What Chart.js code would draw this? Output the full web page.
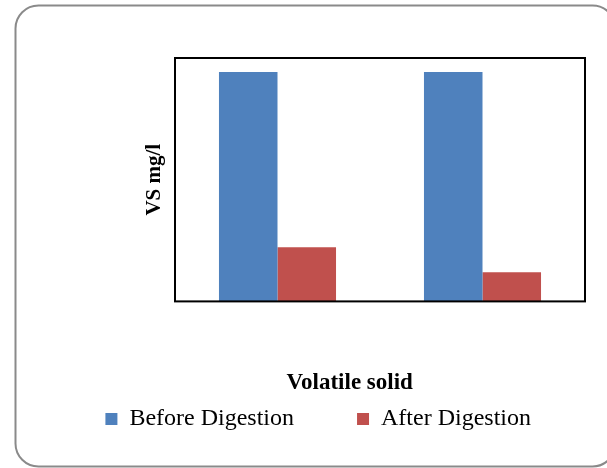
<!DOCTYPE html>
<html>
<head>
<meta charset="utf-8">
<script src="https://cdn.jsdelivr.net/npm/chart.js@4/dist/chart.umd.min.js"></script>
<style>
  html, body { margin: 0; padding: 0; background: #ffffff; }
  #wrap { width: 607px; height: 468px; }
</style>
</head>
<body>
<div id="wrap"><canvas id="c" width="607" height="468"></canvas></div>
<script>
// Volatile solids (mg/l) for the two samples, before and after digestion
const categories = ['1', '2'];
const beforeDigestion = [8480, 8480];
const afterDigestion = [2000, 1075];
const yMax = 9000;

const SERIF = "'Liberation Serif', 'Times New Roman', serif";

// White page with a rounded grey outline around the whole chart
const outerFrame = {
  id: 'outerFrame',
  beforeDraw(chart) {
    const ctx = chart.ctx;
    ctx.save();
    ctx.fillStyle = '#ffffff';
    ctx.fillRect(0, 0, chart.width, chart.height);
    ctx.beginPath();
    ctx.roundRect(15.5, 5.5, 600, 461, 23);
    ctx.lineWidth = 2;
    ctx.strokeStyle = '#8a8a8a';
    ctx.stroke();
    ctx.restore();
  }
};

// Black box around the plotting area
const plotFrame = {
  id: 'plotFrame',
  afterDatasetsDraw(chart) {
    const { ctx, chartArea: a } = chart;
    ctx.save();
    ctx.lineWidth = 2;
    ctx.strokeStyle = '#000000';
    ctx.strokeRect(a.left, a.top, a.right - a.left, a.bottom - a.top);
    ctx.restore();
  }
};

new Chart(document.getElementById('c'), {
  type: 'bar',
  data: {
    labels: categories,
    datasets: [
      {
        label: 'Before Digestion',
        data: beforeDigestion,
        backgroundColor: '#4F81BD',
        borderColor: '#4F81BD',
        borderWidth: 0
      },
      {
        label: 'After Digestion',
        data: afterDigestion,
        backgroundColor: '#C0504D',
        borderColor: '#C0504D',
        borderWidth: 0
      }
    ]
  },
  options: {
    responsive: false,
    animation: false,
    devicePixelRatio: 1,
    categoryPercentage: 0.571,
    barPercentage: 1.0,
    layout: { padding: { left: 0, right: 13, top: 58, bottom: 27 } },
    scales: {
      x: {
        ticks: { display: false },
        grid: { display: false },
        border: { display: false },
        afterFit(scale) { scale.height = 70; }
      },
      y: {
        min: 0,
        max: yMax,
        ticks: { display: false },
        grid: { display: false },
        border: { display: false },
        title: {
          display: true,
          text: 'VS mg/l',
          color: '#000000',
          font: { family: SERIF, size: 21, weight: 'bold' },
          padding: { top: 142, bottom: 0 }
        },
        afterFit(scale) { scale.width = 175; }
      },
      yRight: {
        position: 'right',
        display: true,
        ticks: { display: false },
        grid: { display: false },
        border: { display: false },
        afterFit(scale) { scale.width = 9; }
      }
    },
    plugins: {
      tooltip: { enabled: false },
      legend: {
        position: 'bottom',
        align: 'end',
        title: {
          display: true,
          text: 'Volatile solid',
          position: 'center',
          color: '#000000',
          font: { family: SERIF, size: 23, weight: 'bold' },
          padding: { top: 0, bottom: -55 }
        },
        labels: {
          color: '#000000',
          font: { family: SERIF, size: 24 },
          boxWidth: 12,
          boxHeight: 12,
          padding: 63
        }
      }
    }
  },
  plugins: [outerFrame, plotFrame]
});
</script>
</body>
</html>
